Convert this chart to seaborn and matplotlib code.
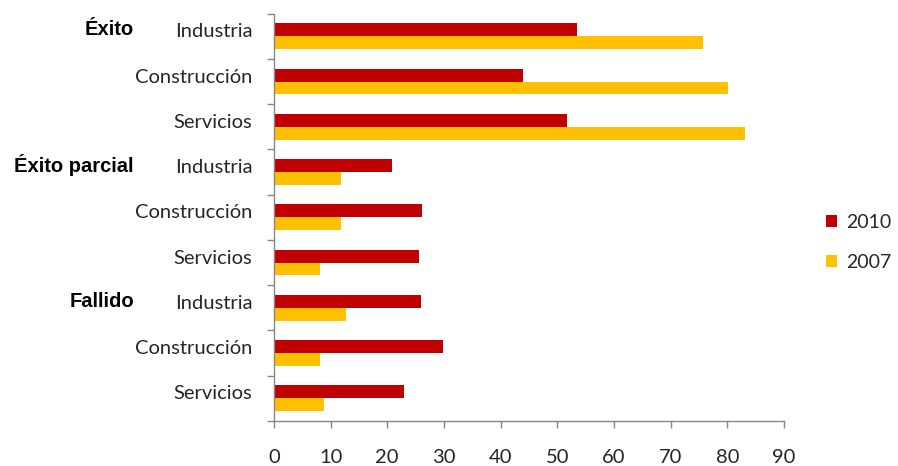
import pandas as pd
import matplotlib.pyplot as plt
import matplotlib.transforms as mtransforms
from matplotlib.ticker import FixedLocator
import seaborn as sns

# Datos
grupos = ['Éxito', 'Éxito parcial', 'Fallido']
sectores = ['Industria', 'Construcción', 'Servicios']
anios = ['2010', '2007']
valores_2010 = [53.5, 44.0, 51.8, 20.9, 26.2, 25.6, 26.0, 29.9, 22.9]
valores_2007 = [75.7, 80.1, 83.1, 11.8, 11.9, 8.1, 12.7, 8.1, 8.9]
colores = ['#C00000', '#FFC000']
xticks = list(range(0, 91, 10))

sns.set_theme(style="white")
plt.rcParams['font.family'] = ['Lato', 'DejaVu Sans']

filas = [f'{g}|{s}' for g in grupos for s in sectores]
df = pd.DataFrame({
    'fila': filas * 2,
    'valor': valores_2010 + valores_2007,
    'anio': [anios[0]] * len(filas) + [anios[1]] * len(filas),
})

fig = plt.figure(figsize=(8.98, 4.66), dpi=100)
ax = fig.add_axes([0.305, 0.0966, 0.568, 0.874])

sns.barplot(data=df, y='fila', x='valor', hue='anio', hue_order=anios,
            order=filas, palette=colores, orient='h', width=0.57,
            linewidth=0, saturation=1, ax=ax, legend=True)

ax.set_xlim(0, 90)
ax.set_ylim(len(filas) - 0.5, -0.5)
ax.set_xlabel('')
ax.set_ylabel('')
ax.set_xticks(xticks)
ax.set_xticklabels([str(t) for t in xticks])
ax.set_yticks(range(len(filas)))
ax.set_yticklabels([f.split('|')[1] for f in filas])

# marcas entre categorías, como en Excel
ax.yaxis.set_minor_locator(FixedLocator([i - 0.5 for i in range(len(filas) + 1)]))
ax.tick_params(axis='y', which='major', length=0, pad=15.5, labelsize=14.5,
               labelcolor='#262626')
ax.tick_params(axis='y', which='minor', length=5, width=1, color='#868686',
               direction='out', left=True)
ax.tick_params(axis='x', length=5, width=1, color='#868686', direction='out',
               pad=15, labelsize=14.5, labelcolor='#262626', bottom=True)

# las etiquetas quedan algo por encima del centro de la fila
desplaza = mtransforms.ScaledTranslation(0, 0.06, fig.dpi_scale_trans)
for lab in ax.get_yticklabels():
    lab.set_transform(lab.get_transform() + desplaza)

for lado in ['top', 'right']:
    ax.spines[lado].set_visible(False)
for lado in ['left', 'bottom']:
    ax.spines[lado].set_color('#868686')
    ax.spines[lado].set_linewidth(1)

# etiquetas de grupo
trans = mtransforms.blended_transform_factory(fig.transFigure, ax.transData)
for i, g in enumerate(grupos):
    ax.text(0.149, i * 3 - 0.15, g, transform=trans, ha='right', va='center',
            fontsize=14.5, fontweight='bold', family='Liberation Sans',
            color='black')

ax.get_legend().remove()
handles, labels = ax.get_legend_handles_labels()
fig.legend(handles, labels, loc='center left', bbox_to_anchor=(0.9, 0.48),
           frameon=False, fontsize=14, handlelength=0.6, handleheight=0.6,
           handletextpad=0.45, labelspacing=1.2, labelcolor='#262626')

fig.savefig('out.png', dpi=100)
